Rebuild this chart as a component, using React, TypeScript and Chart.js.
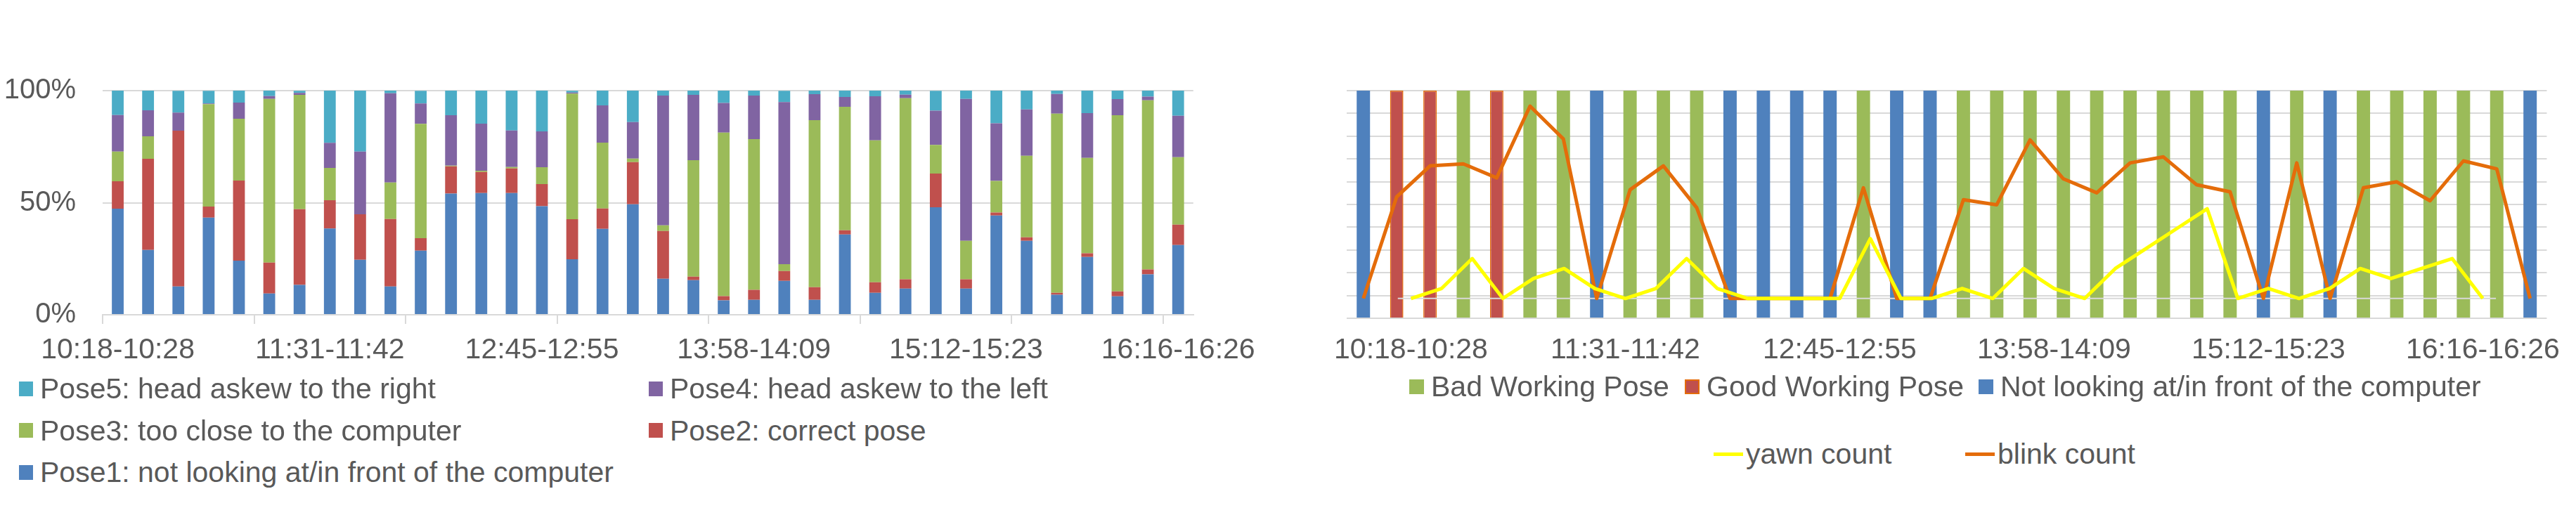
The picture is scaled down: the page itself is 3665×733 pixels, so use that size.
import React, { useEffect, useRef } from 'react';
import { Chart, registerables } from 'chart.js';

Chart.register(...registerables);

// ---------- data ----------
const tickLabels = ['10:18-10:28', '11:31-11:42', '12:45-12:55', '13:58-14:09', '15:12-15:23', '16:16-16:26'];
const labelStep = 7;

// Left chart: share of each pose per 10-minute window (percent)
const pose1 = [47.3, 28.9, 12.6, 43.3, 24.1, 9.5, 13.3, 38.5, 24.5, 12.6, 28.6, 54.1, 54.3, 54.3, 48.4, 24.8, 38.3, 49.3, 16.1, 15.4, 6.4, 6.7, 15.1, 6.7, 35.8, 9.8, 11.7, 48.0, 11.7, 44.3, 33.0, 8.9, 25.8, 8.2, 18.0, 31.1];
const pose2 = [12.3, 40.7, 69.5, 5.0, 35.8, 13.8, 33.8, 12.6, 20.3, 30.1, 5.6, 12.1, 9.4, 11.0, 9.9, 17.8, 9.1, 18.8, 21.3, 1.6, 1.9, 4.4, 4.4, 5.6, 1.9, 4.7, 4.1, 15.0, 4.1, 1.3, 1.6, 0.9, 1.6, 2.2, 2.2, 9.1];
const pose3 = [13.2, 10.0, 0, 45.7, 27.6, 73.0, 51.0, 14.4, 0, 16.3, 51.0, 0.3, 0.6, 0.6, 7.5, 56.1, 29.4, 1.6, 2.5, 52.0, 73.0, 67.3, 3.1, 74.5, 55.1, 63.3, 80.8, 12.8, 17.2, 14.1, 36.3, 79.9, 42.6, 78.6, 75.5, 30.1];
const pose4 = [16.3, 11.6, 8.1, 0.3, 7.2, 1.3, 0.9, 11.2, 28.0, 39.8, 9.1, 22.5, 21.0, 16.3, 16.0, 0.4, 16.6, 16.3, 57.9, 29.1, 13.2, 19.4, 72.3, 11.6, 4.4, 19.7, 1.6, 15.3, 63.3, 25.7, 20.7, 8.8, 20.0, 7.2, 1.6, 18.5];
const pose5 = [11.0, 8.8, 9.7, 5.6, 5.3, 2.5, 0.9, 23.3, 27.2, 1.3, 5.6, 11.0, 14.7, 17.8, 18.2, 0.8, 6.6, 14.1, 2.2, 1.9, 5.6, 2.2, 5.0, 1.6, 2.8, 2.5, 1.9, 8.8, 3.8, 14.7, 8.5, 1.6, 10.0, 3.8, 2.8, 11.3];

// Right chart: dominant class per window (B = bad, G = good, N = not looking)
const poseClass = ['N', 'G', 'G', 'B', 'G', 'B', 'B', 'N', 'B', 'B', 'B', 'N', 'N', 'N', 'N', 'B', 'N', 'N', 'B', 'B', 'B', 'B', 'B', 'B', 'B', 'B', 'B', 'N', 'B', 'N', 'B', 'B', 'B', 'B', 'B', 'N'];
const blinkCount = [0, 10.2, 13.3, 13.5, 12.1, 19.3, 16.0, 0, 10.9, 13.3, 9.1, 0, 0, 0, 0, 11.1, 0, 0, 9.9, 9.4, 15.9, 12.0, 10.6, 13.6, 14.2, 11.4, 10.7, 0, 13.6, 0, 11.1, 11.7, 9.8, 13.8, 13.0, 0];
const yawnCount = [0, 1, 4, 0, 2, 3, 1, 0, 1, 4, 1, 0, 0, 0, 0, 6, 0, 0, 1, 0, 3, 1, 0, 3, 5, 7, 9, 0, 1, 0, 1, 3, 2, 3, 4, 0];

// ---------- styles ----------
const FONT = '"Liberation Sans", Arial, sans-serif';
const TEXT = '#595959';
const GRID = '#D9D9D9';
const BLUE = '#4F81BD';
const RED = '#C0504D';
const GREEN = '#9BBB59';
const PURPLE = '#8064A2';
const CYAN = '#4BACC6';
const ORANGE = '#E46C0A';
const YELLOW = '#FFFF00';

const poseSeries = [
  { name: 'Pose1: not looking at/in front of the computer', data: pose1, color: BLUE },
  { name: 'Pose2: correct pose', data: pose2, color: RED },
  { name: 'Pose3: too close to the computer', data: pose3, color: GREEN },
  { name: 'Pose4: head askew to the left', data: pose4, color: PURPLE },
  { name: 'Pose5: head askew to the right', data: pose5, color: CYAN },
];

const classSeries = [
  { key: 'B', name: 'Bad Working Pose', color: GREEN, border: GREEN, bw: 0 },
  { key: 'G', name: 'Good Working Pose', color: RED, border: ORANGE, bw: 1.5 },
  { key: 'N', name: 'Not looking at/in front of the computer', color: BLUE, border: BLUE, bw: 0 },
];

const categoryLabels = pose1.map((_, i) => (i % labelStep === 0 ? tickLabels[i / labelStep] : ''));

function leftConfig(): any {
  return {
    type: 'bar',
    data: {
      labels: categoryLabels,
      datasets: poseSeries.map((s) => ({
        label: s.name,
        data: s.data,
        backgroundColor: s.color,
        borderWidth: 0,
        barPercentage: 0.39,
        categoryPercentage: 1,
      })),
    },
    options: {
      responsive: false,
      animation: false,
      devicePixelRatio: 1,
      layout: { padding: { top: 129, right: 99, left: 0, bottom: 0 } },
      plugins: { legend: { display: false }, tooltip: { enabled: false } },
      scales: {
        x: {
          stacked: true,
          offset: true,
          grid: {
            offset: true,
            drawOnChartArea: false,
            drawTicks: true,
            tickLength: 13,
            tickWidth: 2,
            lineWidth: 2,
            tickColor: (c: any) => (c.index !== undefined && c.index % 5 === 0 ? GRID : 'rgba(0,0,0,0)'),
          },
          border: { color: GRID, width: 2 },
          ticks: {
            autoSkip: false,
            maxRotation: 0,
            minRotation: 0,
            padding: 13,
            color: TEXT,
            font: { family: FONT, size: 41 },
          },
          afterFit: (s: any) => {
            s.height = 92;
          },
        },
        y: {
          stacked: true,
          min: 0,
          max: 100,
          ticks: {
            stepSize: 50,
            padding: 38,
            color: TEXT,
            font: { family: FONT, size: 40 },
            callback: (v: any) => v + '%',
          },
          grid: { color: GRID, lineWidth: 2, drawTicks: false },
          border: { display: false },
          afterFit: (s: any) => {
            s.width = 146;
          },
        },
      },
    },
  };
}

const yawnAxisPlugin = {
  id: 'yawnAxisLine',
  beforeDatasetDraw(chart: any, args: any) {
    if (chart.data.datasets[args.index].label !== 'blink count') return;
    const x2 = chart.scales.x2;
    const y2 = chart.scales.y2;
    const ctx = chart.ctx;
    const y = y2.getPixelForValue(0);
    ctx.save();
    ctx.strokeStyle = GRID;
    ctx.lineWidth = 2;
    ctx.beginPath();
    ctx.moveTo(x2.getPixelForValue(-0.43), y);
    ctx.lineTo(x2.getPixelForValue(yawnCount.length - 0.57), y);
    ctx.stroke();
    ctx.restore();
  },
};

function rightConfig(): any {
  return {
    type: 'bar',
    data: {
      labels: poseClass.map((_, i) => String(i)),
      datasets: [
        {
          type: 'line',
          label: 'yawn count',
          data: yawnCount.map((v, k) => ({ x: k, y: v })),
          xAxisID: 'x2',
          yAxisID: 'y2',
          borderColor: YELLOW,
          borderWidth: 5,
          pointRadius: 0,
          tension: 0,
          borderJoinStyle: 'round',
          order: 0,
        },
        {
          type: 'line',
          label: 'blink count',
          data: blinkCount,
          xAxisID: 'x',
          yAxisID: 'y2',
          borderColor: ORANGE,
          borderWidth: 5,
          pointRadius: 0,
          tension: 0,
          borderJoinStyle: 'round',
          order: 1,
        },
        ...classSeries.map((c) => ({
          type: 'bar',
          label: c.name,
          data: poseClass.map((p) => (p === c.key ? 100 : null)),
          xAxisID: 'x',
          yAxisID: 'y',
          backgroundColor: c.color,
          borderColor: c.border,
          borderWidth: c.bw,
          grouped: false,
          barPercentage: 0.4,
          categoryPercentage: 1,
          order: 2,
        })),
      ],
    },
    options: {
      responsive: false,
      animation: false,
      devicePixelRatio: 1,
      layout: { padding: { top: 129, right: 28, left: 116, bottom: 0 } },
      plugins: { legend: { display: false }, tooltip: { enabled: false } },
      scales: {
        x: { type: 'category', display: false, offset: true, grid: { offset: true } },
        x2: {
          type: 'linear',
          position: 'bottom',
          offset: false,
          bounds: 'data',
          min: -2.1,
          max: 37.09,
          grid: { display: false, drawTicks: false, offset: false },
          border: { display: false },
          afterBuildTicks: (s: any) => {
            s.ticks = tickLabels.map((_, i) => ({ value: i * labelStep }));
          },
          ticks: {
            autoSkip: false,
            maxRotation: 0,
            minRotation: 0,
            padding: 21,
            color: TEXT,
            font: { family: FONT, size: 41 },
            callback: (v: any) => tickLabels[Math.round(v / labelStep)],
          },
          afterFit: (s: any) => {
            s.height = 87;
          },
        },
        y: {
          position: 'left',
          min: 0,
          max: 100,
          ticks: { display: false, stepSize: 10 },
          grid: { color: GRID, lineWidth: 2, drawTicks: false },
          border: { display: false },
          afterFit: (s: any) => {
            s.width = 0;
          },
        },
        y2: { display: false, min: -1.99, max: 20.85 },
      },
    },
    plugins: [yawnAxisPlugin],
  };
}

// ---------- legend layout ----------
const leftLegend = [
  { name: poseSeries[4].name, color: CYAN, x: 27, cy: 553 },
  { name: poseSeries[3].name, color: PURPLE, x: 923, cy: 553 },
  { name: poseSeries[2].name, color: GREEN, x: 27, cy: 612.5 },
  { name: poseSeries[1].name, color: RED, x: 923, cy: 612.5 },
  { name: poseSeries[0].name, color: BLUE, x: 27, cy: 672 },
];

const rightBoxLegend = [
  { name: classSeries[0].name, color: GREEN, border: GREEN, x: 2005 },
  { name: classSeries[1].name, color: RED, border: ORANGE, x: 2397 },
  { name: classSeries[2].name, color: BLUE, border: BLUE, x: 2815 },
];

const rightLineLegend = [
  { name: 'yawn count', color: YELLOW, x: 2438 },
  { name: 'blink count', color: ORANGE, x: 2796 },
];

function BoxItem(props: { name: string; color: string; border?: string; x: number; cy: number; w?: number }) {
  const { name, color, border, x, cy, w = 20 } = props;
  return (
    <div
      style={{
        position: 'absolute',
        left: x,
        top: cy - 24,
        height: 48,
        display: 'flex',
        alignItems: 'center',
        whiteSpace: 'nowrap',
        fontSize: 41,
        lineHeight: '48px',
      }}
    >
      <span
        style={{
          display: 'inline-block',
          width: w,
          height: 21,
          boxSizing: 'border-box',
          background: color,
          border: border && border !== color ? `2px solid ${border}` : 'none',
          marginRight: 10,
        }}
      />
      <span>{name}</span>
    </div>
  );
}

function LineItem(props: { name: string; color: string; x: number; cy: number }) {
  const { name, color, x, cy } = props;
  return (
    <div
      style={{
        position: 'absolute',
        left: x,
        top: cy - 24,
        height: 48,
        display: 'flex',
        alignItems: 'center',
        whiteSpace: 'nowrap',
        fontSize: 41,
        lineHeight: '48px',
      }}
    >
      <span style={{ display: 'inline-block', width: 42, height: 5, background: color, marginRight: 4 }} />
      <span>{name}</span>
    </div>
  );
}

export default function App() {
  const leftRef = useRef<HTMLCanvasElement>(null);
  const rightRef = useRef<HTMLCanvasElement>(null);

  useEffect(() => {
    const l = new Chart(leftRef.current as HTMLCanvasElement, leftConfig());
    const r = new Chart(rightRef.current as HTMLCanvasElement, rightConfig());
    return () => {
      l.destroy();
      r.destroy();
    };
  }, []);

  return (
    <div
      style={{
        position: 'absolute',
        left: 0,
        top: 0,
        width: 3665,
        height: 733,
        background: '#ffffff',
        overflow: 'hidden',
        fontFamily: FONT,
        color: TEXT,
      }}
    >
      <canvas ref={leftRef} width={1800} height={540} style={{ position: 'absolute', left: 0, top: 0, width: 1800, height: 540 }} />
      <canvas ref={rightRef} width={1865} height={540} style={{ position: 'absolute', left: 1800, top: 0, width: 1865, height: 540 }} />
      {leftLegend.map((it) => (
        <BoxItem key={it.name} name={it.name} color={it.color} x={it.x} cy={it.cy} />
      ))}
      {rightBoxLegend.map((it) => (
        <BoxItem key={it.name} name={it.name} color={it.color} border={it.border} x={it.x} cy={550} w={21} />
      ))}
      {rightLineLegend.map((it) => (
        <LineItem key={it.name} name={it.name} color={it.color} x={it.x} cy={646} />
      ))}
    </div>
  );
}
